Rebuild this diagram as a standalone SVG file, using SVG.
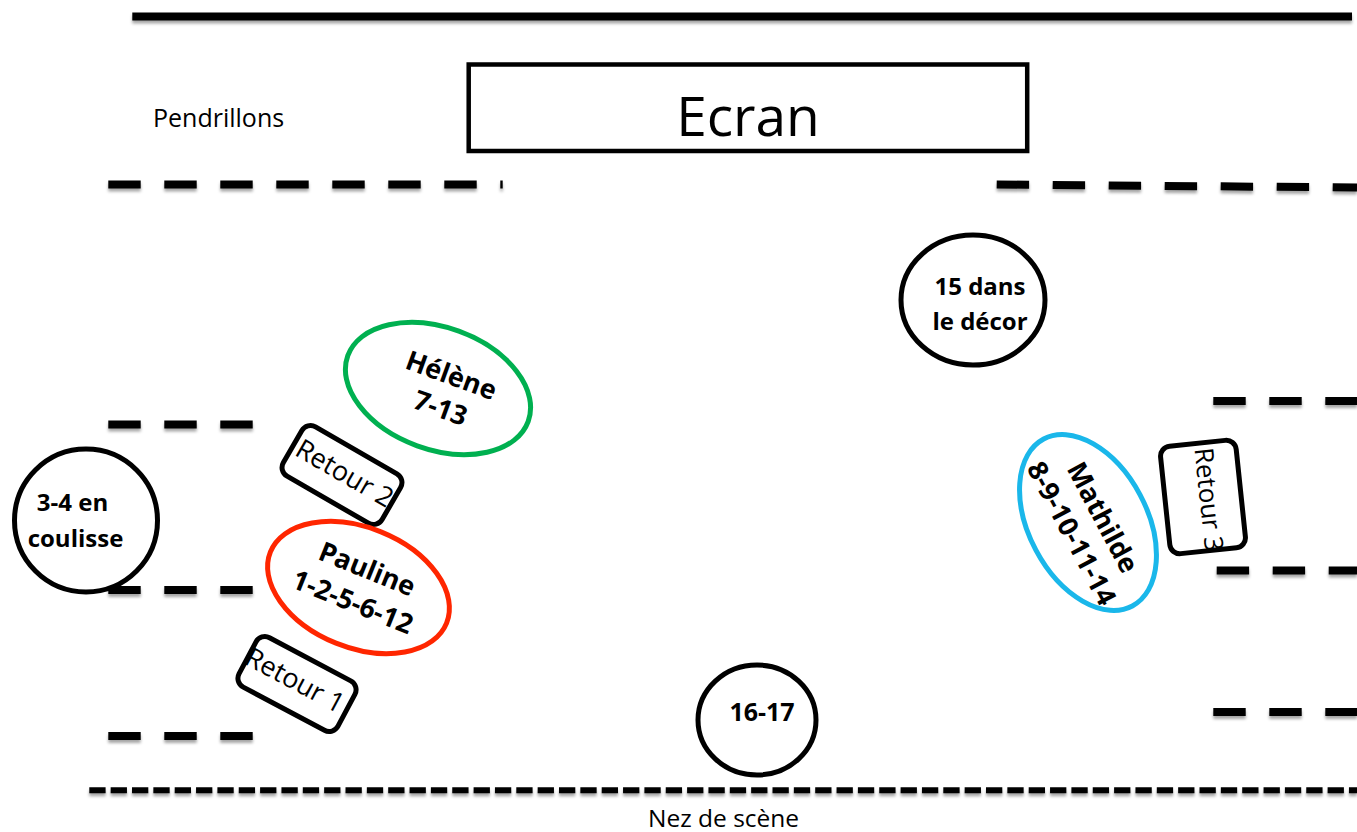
<svg xmlns="http://www.w3.org/2000/svg" width="1357" height="832" viewBox="0 0 1357 832">
<style>
.dash{stroke:#000;stroke-width:8;stroke-dasharray:32.4 23.6;fill:none}
.lbl{font-family:"Open Sans","Liberation Sans",sans-serif;fill:#000}
.b{font-weight:bold}
.box{fill:#fff;stroke:#000;stroke-width:5}
.ring{fill:#fff;stroke-width:5}
</style>
<defs>
<filter id="sh" filterUnits="userSpaceOnUse" x="0" y="0" width="1357" height="832">
<feDropShadow dx="0" dy="3" stdDeviation="1.5" flood-color="#000" flood-opacity="0.35"/>
</filter>
</defs>
<rect width="1357" height="832" fill="#fff"/>
<g id="stage-lines" filter="url(#sh)">
<line x1="132.3" y1="16.5" x2="1352" y2="16.5" stroke="#000" stroke-width="8"/>
<line class="dash" x1="108.3" y1="184.5" x2="502.7" y2="184.5"/>
<line class="dash" x1="996.7" y1="184.5" x2="1357" y2="187.5"/>
<line class="dash" x1="108.3" y1="424.5" x2="252.7" y2="424.5"/>
<line class="dash" x1="108.3" y1="590" x2="252.7" y2="590"/>
<line class="dash" x1="108.3" y1="736" x2="252.7" y2="736"/>
<line class="dash" x1="1213.3" y1="401" x2="1357" y2="401"/>
<line class="dash" x1="1216.7" y1="570.5" x2="1357" y2="570.5"/>
<line class="dash" x1="1213.3" y1="712" x2="1357" y2="712"/>
<line x1="89.3" y1="790.3" x2="1357" y2="790.3" stroke="#000" stroke-width="6" stroke-dasharray="16.3 5.05"/>
</g>
<text class="lbl" x="153" y="127" font-size="25">Pendrillons</text>
<text class="lbl" x="648" y="827" font-size="24.5">Nez de scène</text>
<g id="ecran">
<rect x="468.7" y="64.5" width="558.5" height="86.5" fill="#fff" stroke="#000" stroke-width="4.5"/>
<text class="lbl" x="748" y="136" font-size="55" text-anchor="middle">Ecran</text>
</g>
<g id="decor">
<ellipse cx="973" cy="300" rx="72" ry="65" class="ring" stroke="#000"/>
<text class="lbl b" x="980" y="295" font-size="24" text-anchor="middle">15 dans</text>
<text class="lbl b" x="980" y="330" font-size="24" text-anchor="middle">le décor</text>
</g>
<g id="coulisse">
<circle cx="86" cy="520.5" r="71.5" class="ring" stroke="#000"/>
<text class="lbl b" x="72.5" y="511" font-size="24" text-anchor="middle">3-4 en</text>
<text class="lbl b" x="75.5" y="547" font-size="24" text-anchor="middle">coulisse</text>
</g>
<g id="n1617">
<ellipse cx="757" cy="720" rx="59" ry="55" class="ring" stroke="#000"/>
<text class="lbl b" x="762" y="721" font-size="25" text-anchor="middle">16-17</text>
</g>
<g id="helene" transform="translate(438 388.5) rotate(20)">
<ellipse cx="0" cy="0" rx="96" ry="61" class="ring" stroke="#00b050"/>
<text class="lbl b" x="8" y="-7.5" font-size="27" text-anchor="middle">Hélène</text>
<text class="lbl b" x="9" y="27" font-size="27" text-anchor="middle">7-13</text>
</g>
<g id="retour2" transform="translate(342 475) rotate(30)">
<rect x="-57" y="-28.5" width="114" height="57" rx="10" class="box"/>
<text class="lbl" x="1.5" y="6.5" font-size="27" text-anchor="middle">Retour 2</text>
</g>
<g id="pauline" transform="translate(358.5 587.5) rotate(22)">
<ellipse cx="0" cy="0" rx="95" ry="60" class="ring" stroke="#ff2600"/>
<text class="lbl b" x="1" y="-11" font-size="27" text-anchor="middle">Pauline</text>
<text class="lbl b" x="0" y="25" font-size="27" text-anchor="middle">1-2-5-6-12</text>
</g>
<g id="retour1" transform="translate(297 684) rotate(28)">
<rect x="-56" y="-28" width="112" height="56" rx="10" class="box"/>
<text class="lbl" x="-3.5" y="7" font-size="27" text-anchor="middle">Retour 1</text>
</g>
<g id="mathilde" transform="translate(1088 522.5) rotate(62)">
<ellipse cx="0" cy="0" rx="94.5" ry="59" class="ring" stroke="#1ab7ea"/>
<text class="lbl b" x="2.5" y="-6" font-size="27" text-anchor="middle">Mathilde</text>
<text class="lbl b" x="2" y="29" font-size="27" text-anchor="middle">8-9-10-11-14</text>
</g>
<g id="retour3" transform="translate(1203 497) rotate(84)">
<rect x="-54" y="-38" width="108" height="76" rx="10" class="box"/>
<text class="lbl" x="3" y="3.5" font-size="26" text-anchor="middle">Retour 3</text>
</g>
</svg>
